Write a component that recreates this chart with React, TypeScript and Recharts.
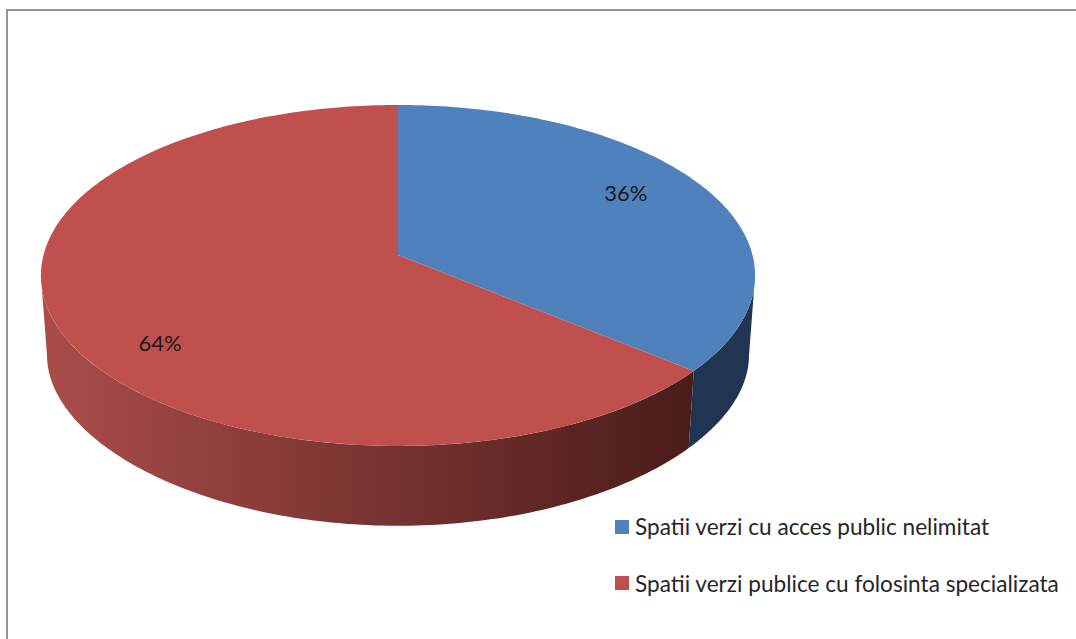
import { PieChart, Pie, Legend } from 'recharts';

const categorii = ['Spatii verzi cu acces public nelimitat', 'Spatii verzi publice cu folosinta specializata'];
const valori = [36, 64];
const culori = ['#4F81BD', '#C0504D'];

const data = categorii.map((name, i) => ({ name, value: valori[i], fill: culori[i] }));

// perspective of the disc, as fractions of the pie radius
const TILT = 0.474;
const PERSP = 0.12;
// lower rim of the side wall
const BOTTOM_DY = 81;
const BOTTOM_SX = 0.983;
const BOTTOM_TILT = 0.439;
const BOTTOM_PERSP = 0.18;

// angle = recharts degrees (90 = top, going clockwise to -270)
function project(cx: number, cy: number, r: number, angle: number) {
  const rad = (angle * Math.PI) / 180;
  const u = Math.cos(rad);
  const v = Math.sin(rad);
  const w = 1 + PERSP * v;
  return { x: cx + (r * u) / w, y: cy - (r * TILT * v) / w };
}

function projectBottom(cx: number, cy: number, r: number, angle: number) {
  const rad = (angle * Math.PI) / 180;
  const u = Math.cos(rad);
  const v = Math.sin(rad);
  return {
    x: cx + (BOTTOM_SX * r * u) / (1 + PERSP * v),
    y: cy + BOTTOM_DY - (r * BOTTOM_TILT * v) / (1 + BOTTOM_PERSP * v),
  };
}

function arcPoints(project3d: typeof project, cx: number, cy: number, r: number, a0: number, a1: number) {
  const n = Math.max(2, Math.ceil(Math.abs(a1 - a0)));
  const pts: string[] = [];
  for (let i = 0; i <= n; i++) {
    const p = project3d(cx, cy, r, a0 + ((a1 - a0) * i) / n);
    pts.push(`${p.x.toFixed(2)} ${p.y.toFixed(2)}`);
  }
  return pts;
}

function PieSlice3D(props: any) {
  const { cx, cy, outerRadius, startAngle, endAngle, fill, index } = props;
  // only the front of the side wall is visible
  const wallStart = Math.min(startAngle, -7);
  const wallEnd = Math.max(endAngle, -173);
  const gradId = `wall-${index}`;
  const top = arcPoints(project, cx, cy, outerRadius, startAngle, endAngle);
  const wallTop = arcPoints(project, cx, cy, outerRadius, wallStart, wallEnd);
  const wallBottom = arcPoints(projectBottom, cx, cy, outerRadius, wallEnd, wallStart);
  return (
    <g>
      <defs>
        <linearGradient id={gradId} gradientUnits="userSpaceOnUse" x1={cx - outerRadius} x2={cx + outerRadius * 0.83} y1={0} y2={0}>
          <stop offset="0%" stopColor={index === 0 ? '#1F3552' : '#AA4D49'} />
          <stop offset="100%" stopColor={index === 0 ? '#1F3552' : '#4A1C1A'} />
        </linearGradient>
      </defs>
      {wallStart > wallEnd && <path d={`M${wallTop.join('L')}L${wallBottom.join('L')}Z`} fill={`url(#${gradId})`} />}
      <path d={`M${cx} ${cy}L${top.join('L')}Z`} fill={fill} />
    </g>
  );
}

const LABEL_RADIUS = 0.75;
const LABEL_NUDGE = [
  [-1, -11],
  [15.5, 31],
];

function renderLabel(props: any) {
  const { cx, cy, midAngle, outerRadius, percent, index } = props;
  const p = project(cx, cy, outerRadius * LABEL_RADIUS, midAngle);
  return (
    <text
      x={p.x + LABEL_NUDGE[index][0]}
      y={p.y + LABEL_NUDGE[index][1]}
      textAnchor="middle"
      dominantBaseline="central"
      fontFamily="Lato"
      fontSize={22}
      fill="#1a1a1a"
    >
      {`${Math.round(percent * 100)}%`}
    </text>
  );
}

function Legenda({ payload }: any) {
  return (
    <div style={{ fontFamily: 'Lato', fontSize: 22.6, color: '#262626' }}>
      {(payload || []).map((item: any) => (
        <div key={item.value} style={{ display: 'flex', alignItems: 'center', height: 56.5, whiteSpace: 'nowrap' }}>
          <span style={{ width: 14, height: 14, background: item.color, marginRight: 6, display: 'inline-block' }} />
          {item.value}
        </div>
      ))}
    </div>
  );
}

export default function App() {
  return (
    <div style={{ position: 'absolute', left: 0, top: 0, width: 1076, height: 639, overflow: 'hidden', background: '#fff' }}>
      <div style={{ position: 'absolute', left: 6, top: 9, width: 1200, height: 800, border: '2.5px solid #949494' }} />
      <div style={{ position: 'absolute', left: 0, top: 0 }}>
        <PieChart width={1076} height={639} margin={{ top: 0, right: 0, bottom: 0, left: 0 }}>
          <Pie
            data={data}
            dataKey="value"
            nameKey="name"
            cx={398}
            cy={255}
            outerRadius={354.5}
            startAngle={90}
            endAngle={-270}
            stroke="none"
            isAnimationActive={false}
            shape={PieSlice3D}
            label={renderLabel}
            labelLine={false}
          />
          <Legend
            content={<Legenda />}
            layout="vertical"
            wrapperStyle={{ position: 'absolute', left: 615, top: 498.5, width: 461, bottom: 'auto' }}
          />
        </PieChart>
      </div>
    </div>
  );
}
